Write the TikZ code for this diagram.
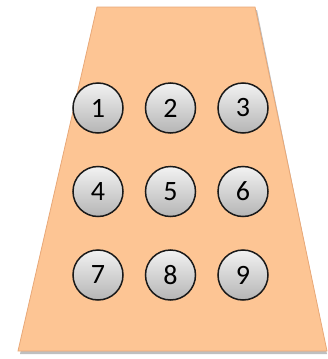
\documentclass[tikz,border=0pt]{standalone}
\usepackage{fontspec}
\setmainfont{Carlito}
\usepackage{tikz}
\usetikzlibrary{positioning}
\definecolor{plateorange}{HTML}{FDC594}
\definecolor{plateedge}{HTML}{E8A878}
\definecolor{balltop}{HTML}{F2F2F2}
\definecolor{ballbot}{HTML}{B5B5B5}

\begin{document}
\begin{tikzpicture}[
  x=1pt,y=-1pt,
  plate/.style={fill=plateorange,draw=plateedge,line width=0.8pt},
  ball/.style={circle,draw=black!90,line width=1.5pt,minimum size=50pt,inner sep=0pt,
    top color=balltop,bottom color=ballbot,font=\fontsize{28}{30}\selectfont}
]
\useasboundingbox (0,0) rectangle (327,359);
% shadow under the plate
\fill[black!25] (99,10) -- (257,10) -- (327,354) -- (20,354) -- cycle;
\draw[plate] (97,7) -- (255,7) -- (327,351) -- (18,351) -- cycle;
% keys
\foreach \k [count=\i from 0] in {1,...,9}{
  \pgfmathtruncatemacro{\col}{mod(\i,3)}
  \pgfmathtruncatemacro{\row}{div(\i,3)}
  \node[ball] (n\k) at ({98+72.5*\col},{108+83.5*\row}) {\k};
}
\end{tikzpicture}
\end{document}
